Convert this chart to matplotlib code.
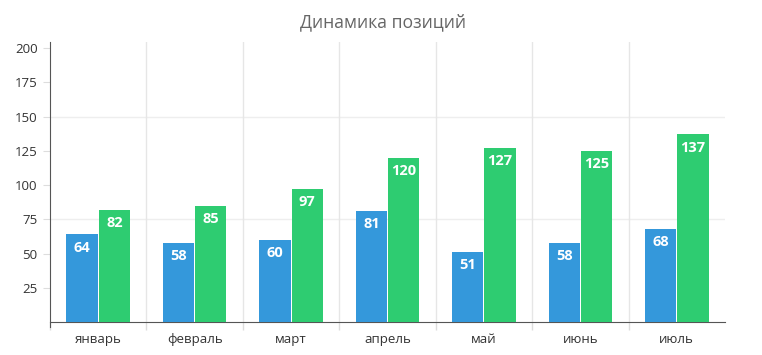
import numpy as np
from matplotlib import pyplot as plt
from matplotlib.ticker import FixedLocator

months = ['январь', 'февраль', 'март', 'апрель', 'май', 'июнь', 'июль']
blue_vals = [64, 58, 60, 81, 51, 58, 68]
green_vals = [82, 85, 97, 120, 127, 125, 137]
title = 'Динамика позиций'

plt.rcParams['font.family'] = ['Open Sans', 'DejaVu Sans']

fig = plt.figure(figsize=(7.62, 3.55), dpi=100)
ax = fig.add_axes([50 / 762, 33 / 355, 675 / 762, 280 / 355])

x = np.arange(len(months))
w = 0.325
b1 = ax.bar(x - w / 2 - 0.005, blue_vals, w, color='#3498db', zorder=3)
b2 = ax.bar(x + w / 2 + 0.005, green_vals, w, color='#2ecc71', zorder=3)

for bars in (b1, b2):
    for r in bars:
        ax.annotate(str(int(r.get_height())),
                    (r.get_x() + r.get_width() / 2, r.get_height()),
                    xytext=(0, -4.5), textcoords='offset points',
                    ha='center', va='top', color='white',
                    fontsize=10.5, fontweight='bold', zorder=4)

ax.set_xlim(-0.5, len(months) - 0.5)
ax.set_ylim(0, 204.4)
ax.set_xticks(x)
ax.set_xticklabels(months, fontsize=9.5, color='#333333')
ax.xaxis.set_minor_locator(FixedLocator(np.arange(-0.5, len(months) - 1, 1)))
ax.tick_params(axis='x', which='major', length=0, pad=8)
ax.tick_params(axis='x', which='minor', length=6, color='#dddddd', width=1)
ax.set_yticks([25, 50, 75, 100, 125, 150, 175, 200])
ax.tick_params(axis='y', length=5, color='#dddddd', labelsize=9.5,
               labelcolor='#333333', pad=4)

for v in (75, 150):
    ax.axhline(v, color='#eeeeee', lw=1, zorder=1)
for b in np.arange(0.5, len(months) - 1, 1):
    ax.axvline(b, color='#e6e6e6', lw=1, zorder=1)

for s in ('top', 'right'):
    ax.spines[s].set_visible(False)
ax.spines['left'].set_color('#555555')
ax.spines['bottom'].set_color('#555555')
ax.spines['left'].set_bounds(-4, 204.4)

fig.text(383 / 762, 1 - 22 / 355, title, ha='center', va='center',
         fontsize=12.7, color='#666666')

fig.savefig('out.png', dpi=100)
